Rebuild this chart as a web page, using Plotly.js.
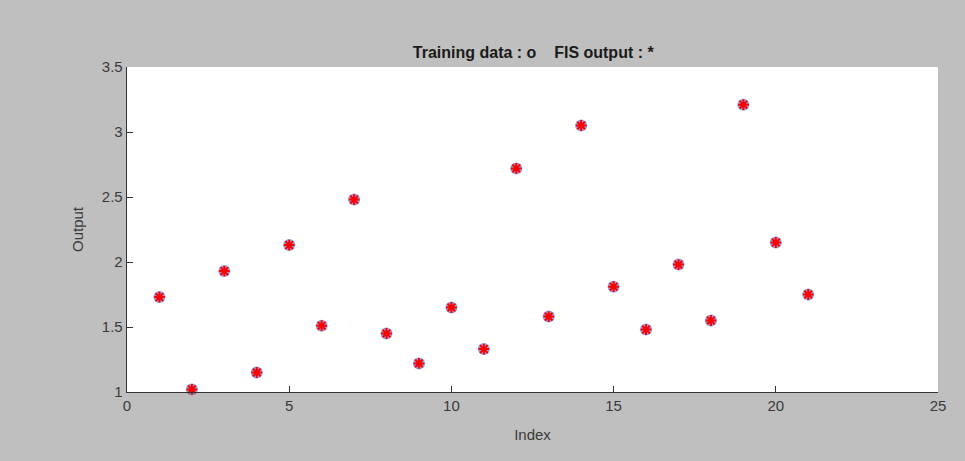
<!DOCTYPE html>
<html>
<head>
<meta charset="utf-8">
<script src="https://cdn.plot.ly/plotly-3.0.1.min.js"></script>
<style>html,body{margin:0;padding:0;background:#bfbfbf;}#chart{width:965px;height:461px;}</style>
</head>
<body>
<div id="chart"></div>
<script>
const indexValues = [1,2,3,4,5,6,7,8,9,10,11,12,13,14,15,16,17,18,19,20,21];
const trainingOutput = [1.73,1.02,1.93,1.15,2.13,1.51,2.48,1.45,1.22,1.65,1.33,2.72,1.58,3.05,1.81,1.48,1.98,1.55,3.21,2.15,1.75];
const fisOutput = [1.73,1.02,1.93,1.15,2.13,1.51,2.48,1.45,1.22,1.65,1.33,2.72,1.58,3.05,1.81,1.48,1.98,1.55,3.21,2.15,1.75];
const xTicks = [0,5,10,15,20,25];
const yTicks = [1,1.5,2,2.5,3,3.5];

const traces = [
  {x: indexValues, y: trainingOutput, mode: 'markers', type: 'scatter', name: 'Training data',
   marker: {symbol: 'circle', size: 12, color: 'rgba(110,130,210,0.75)', line: {width: 0}}, cliponaxis: false},
  {x: indexValues, y: fisOutput, mode: 'markers', type: 'scatter', name: 'FIS output',
   marker: {symbol: 'asterisk-open', size: 9, color: '#ff0000', line: {width: 2, color: '#ff0000'}}, cliponaxis: false}
];

const font = {family: 'Liberation Sans, Arial, sans-serif', size: 13, color: '#3a3a3a'};
const layout = {
  width: 965, height: 461,
  paper_bgcolor: '#bfbfbf', plot_bgcolor: '#ffffff',
  margin: {l: 127, r: 27, t: 67, b: 69},
  showlegend: false,
  font: font,
  title: {text: '<b>Training data : o    FIS output : *</b>', x: 0.5526, xanchor: 'center', y: 0.887, yanchor: 'middle',
          font: {family: 'Liberation Sans, Arial, sans-serif', size: 16, color: '#1a1a1a'}},
  xaxis: {range: [0, 25], tickvals: xTicks, ticktext: xTicks.map(String), ticks: 'inside', ticklen: 6, tickcolor: '#333',
          showline: true, linecolor: '#333', linewidth: 1.3, mirror: false, showgrid: false, zeroline: false,
          tickfont: {size: 15, color: '#3a3a3a'},
          title: {text: 'Index', font: {size: 15, color: '#3a3a3a'}, standoff: 16}},
  yaxis: {range: [1, 3.5], tickvals: yTicks, ticktext: yTicks.map(String), ticks: 'inside', ticklen: 6, tickcolor: '#333',
          showline: true, linecolor: '#333', linewidth: 1.3, mirror: false, showgrid: false, zeroline: false,
          tickfont: {size: 15, color: '#3a3a3a'},
          title: {text: 'Output', font: {size: 15, color: '#3a3a3a'}, standoff: 14}}
};
Plotly.newPlot('chart', traces, layout, {displayModeBar: false, staticPlot: true});
</script>
</body>
</html>
